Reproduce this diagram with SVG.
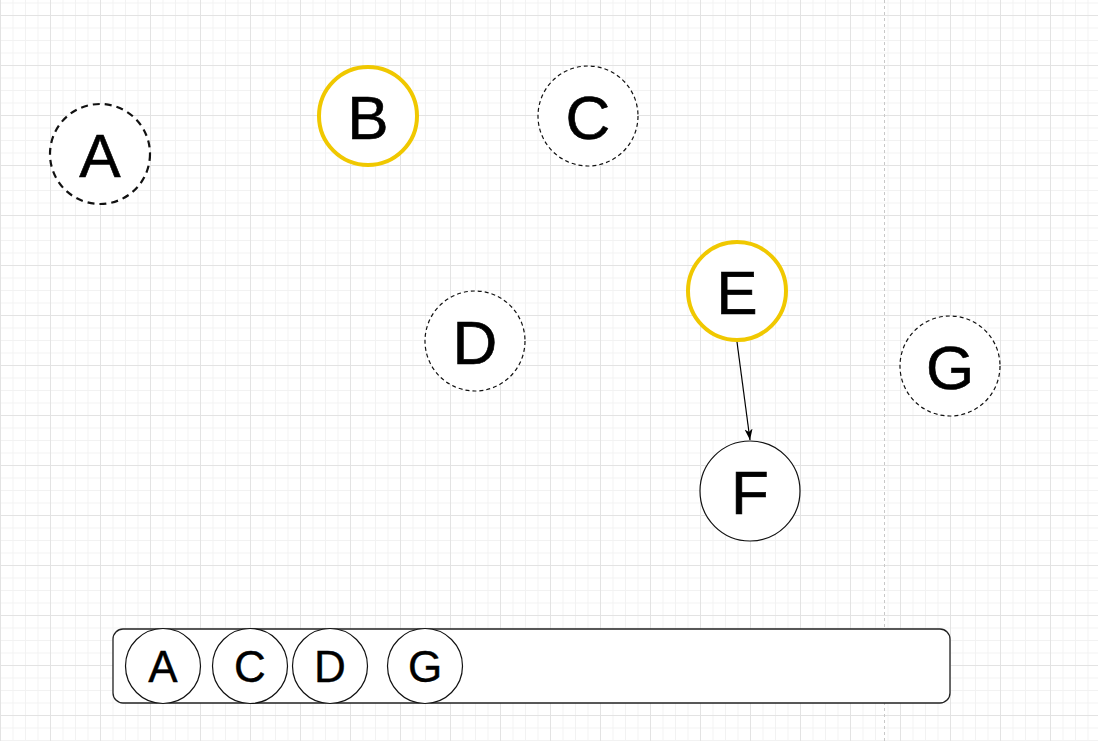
<svg xmlns="http://www.w3.org/2000/svg" width="1098" height="741" viewBox="0 0 1098 741">
<style>
.n{fill:#fff}
.dash{stroke:#111;stroke-width:1.2;stroke-dasharray:4 3}
.dashB{stroke:#111;stroke-width:2.2;stroke-dasharray:7 5}
.yel{stroke:#f0c800;stroke-width:4}
.sol{stroke:#111;stroke-width:1.2}
.t{font-family:"Liberation Sans",Arial,sans-serif;font-size:62px;text-anchor:middle;fill:#000;stroke:#000;stroke-width:0.6}
.ts{font-family:"Liberation Sans",Arial,sans-serif;font-size:44px;text-anchor:middle;fill:#000;stroke:#000;stroke-width:0.4}
</style>
<defs>
<pattern id="minor" width="12.5" height="12.5" patternUnits="userSpaceOnUse" y="15">
<path d="M0 0.5H12.5M0.5 0V12.5" stroke="#f2f2f2" stroke-width="1" fill="none"/>
</pattern>
<pattern id="major" width="50" height="50" patternUnits="userSpaceOnUse" y="15">
<path d="M0 0.5H50M0.5 0V50" stroke="#e3e3e3" stroke-width="1" fill="none"/>
</pattern>
<marker id="arr" markerWidth="12" markerHeight="12" refX="11" refY="6" orient="auto" markerUnits="userSpaceOnUse">
<path d="M0 2L11 6L0 10L3 6Z" fill="#000"/>
</marker>
</defs>
<rect width="1098" height="741" fill="#fff"/>
<rect width="1098" height="741" fill="url(#minor)"/>
<rect width="1098" height="741" fill="url(#major)"/>
<line x1="884.5" y1="0" x2="884.5" y2="741" stroke="#c8c8c8" stroke-width="1" stroke-dasharray="3 3"/>

<g id="connectors">
<line x1="737" y1="342" x2="750" y2="440" stroke="#000" stroke-width="1.2" marker-end="url(#arr)"/>
</g>

<g id="node-A"><circle cx="100" cy="154" r="50" class="n dashB"/><text x="100" y="177" class="t">A</text></g>
<g id="node-B"><circle cx="368" cy="116" r="49" class="n yel"/><text x="368" y="139" class="t">B</text></g>
<g id="node-C"><circle cx="588" cy="116" r="50" class="n dash"/><text x="588" y="139" class="t">C</text></g>
<g id="node-D"><circle cx="475" cy="341" r="50" class="n dash"/><text x="475" y="364" class="t">D</text></g>
<g id="node-E"><circle cx="737" cy="291" r="49" class="n yel"/><text x="737" y="314" class="t">E</text></g>
<g id="node-F"><circle cx="750" cy="491" r="50" class="n sol"/><text x="750" y="514" class="t">F</text></g>
<g id="node-G"><circle cx="950" cy="366" r="50" class="n dash"/><text x="950" y="389" class="t">G</text></g>

<g id="tray">
<rect x="113" y="629" width="837" height="74" rx="10" fill="#fff" stroke="#222" stroke-width="1.3"/>
<g id="tray-A"><circle cx="163" cy="666" r="37.5" class="n sol"/><text x="163" y="682" class="ts">A</text></g>
<g id="tray-C"><circle cx="250" cy="666" r="37.5" class="n sol"/><text x="250" y="682" class="ts">C</text></g>
<g id="tray-D"><circle cx="330" cy="666" r="37.5" class="n sol"/><text x="330" y="682" class="ts">D</text></g>
<g id="tray-G"><circle cx="425" cy="666" r="37.5" class="n sol"/><text x="425" y="682" class="ts">G</text></g>
</g>
</svg>
